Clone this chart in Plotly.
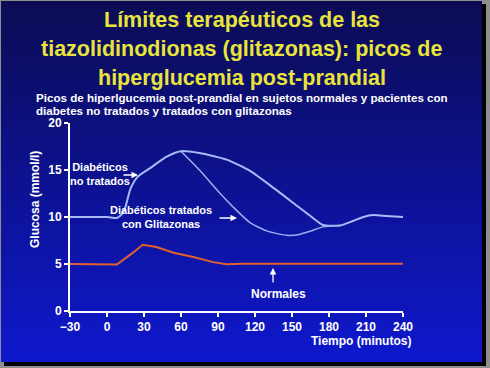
import plotly.graph_objects as go

# ---- data ----
untreated_t = [-30, 0, 8, 12, 15, 19, 25, 35, 48, 60, 75, 97, 116, 135, 154, 167, 175, 189, 200, 208, 216, 227, 240]
untreated_v = [10, 10, 9.9, 10.3, 11.1, 13.0, 14.3, 15.2, 16.4, 17.0, 16.8, 16.1, 14.9, 13.1, 11.2, 9.9, 9.15, 9.1, 9.6, 10.0, 10.2, 10.1, 10.0]

treated_t = [60, 75, 89, 102, 116, 130, 146, 156, 165, 175, 189]
treated_v = [17.0, 15.0, 12.9, 11.1, 9.4, 8.5, 8.05, 8.15, 8.5, 8.95, 9.1]

normal_t = [-30, 0, 8, 20, 29, 40, 54, 70, 86, 97, 107, 109, 240]
normal_v = [5, 5, 4.95, 6.1, 7.05, 6.8, 6.2, 5.75, 5.2, 4.97, 4.95, 5.02, 5.02]

x_ticks = [-30, 0, 30, 60, 90, 120, 150, 180, 210, 240]
y_ticks = [0, 5, 10, 15, 20]

title_lines = ["Límites terapéuticos de las",
               "tiazolidinodionas (glitazonas): picos de",
               "hiperglucemia post-prandial"]
subtitle_lines = ["Picos de hiperlgucemia post-prandial en sujetos normales y pacientes con",
                  "diabetes no tratados y tratados con glitazonas"]

W, H = 490, 368
L, R, T, B = 70, 87, 123, 57
PW, PH = W - L - R, H - T - B


def px(xp):
    return (xp - L) / PW


def py(yp):
    return (H - B - yp) / PH


fig = go.Figure()

fig.add_trace(go.Scatter(x=normal_t, y=normal_v, mode="lines",
                         line=dict(color="#e2602e", width=2), hoverinfo="skip"))
fig.add_trace(go.Scatter(x=untreated_t, y=untreated_v, mode="lines",
                         line=dict(color="#a6bcf6", width=2, shape="spline", smoothing=0.6),
                         hoverinfo="skip"))
fig.add_trace(go.Scatter(x=treated_t, y=treated_v, mode="lines",
                         line=dict(color="#98b0f0", width=1.5, shape="spline", smoothing=0.6),
                         hoverinfo="skip"))

shapes = []
# shadow
shapes.append(dict(type="rect", xref="paper", yref="paper", x0=px(4), x1=px(486), y0=py(366), y1=py(4),
                   fillcolor="black", line=dict(width=0), layer="below"))
# gradient slide
top = (12, 12, 84)
bot = (14, 24, 205)
y0s, y1s = 1, 362
n = 90
step = (y1s - y0s) / n
for i in range(n):
    f = (i + 0.5) / n
    c = tuple(int(round(top[k] + (bot[k] - top[k]) * f)) for k in range(3))
    a = y0s + i * step
    b = a + step + 0.6
    shapes.append(dict(type="rect", xref="paper", yref="paper", x0=px(1), x1=px(482),
                       y0=py(min(b, y1s)), y1=py(a),
                       fillcolor="rgb(%d,%d,%d)" % c, line=dict(width=0), layer="below"))

ann = []
title_y = [19.5, 48.5, 77.5]
for t, yy in zip(title_lines, title_y):
    ann.append(dict(text=t, xref="paper", yref="paper", x=px(241.5), y=py(yy), xanchor="center",
                    yanchor="middle", showarrow=False, borderpad=0,
                    font=dict(family="Arial", size=21.5, color="#e8e43c", weight="bold")))
sub_y = [97.5, 110]
for t, yy in zip(subtitle_lines, sub_y):
    ann.append(dict(text=t, xref="paper", yref="paper", x=px(35), y=py(yy), xanchor="left",
                    yanchor="middle", showarrow=False, borderpad=0,
                    font=dict(family="Arial", size=11.6, color="white", weight="bold")))

lab_font = dict(family="Arial", size=11, color="white", weight="bold")
ann.append(dict(text="Diabéticos<br>no tratados", xref="paper", yref="paper", x=px(100), y=py(173.5),
                xanchor="center", yanchor="middle", showarrow=False, font=lab_font))
ann.append(dict(text="Diabéticos tratados<br>con Glitazonas", xref="paper", yref="paper", x=px(161),
                y=py(217), xanchor="center", yanchor="middle", showarrow=False, font=lab_font))
ann.append(dict(text="Normales", xref="paper", yref="paper", x=px(278), y=py(293.5),
                xanchor="center", yanchor="middle", showarrow=False,
                font=dict(family="Arial", size=12, color="white", weight="bold")))

# arrows
for (tx, ty, ax, ay) in [(138, 175, -16, 0), (237, 218, -19, 0), (273, 268, 0, 16)]:
    ann.append(dict(text="", xref="paper", yref="paper", x=px(tx), y=py(ty), ax=ax, ay=ay,
                    showarrow=True, arrowhead=2, arrowsize=1, arrowwidth=1.3, arrowcolor="white"))

ann.append(dict(text="Tiempo (minutos)", xref="paper", yref="paper", x=px(413), y=py(341),
                xanchor="right", yanchor="middle", showarrow=False,
                font=dict(family="Arial", size=12, color="white", weight="bold")))
ann.append(dict(text="Glucosa (mmol/l)", xref="paper", yref="paper", x=px(35), y=py(200),
                xanchor="center", yanchor="middle", textangle=-90, showarrow=False,
                font=dict(family="Arial", size=12, color="white", weight="bold")))

axis_common = dict(showgrid=False, zeroline=False, showline=True, linecolor="white", linewidth=2,
                   ticks="outside", ticklen=4, tickwidth=2, tickcolor="white",
                   tickfont=dict(family="Arial", size=12, color="white", weight="bold"))

fig.update_layout(
    width=W, height=H,
    margin=dict(l=L, r=R, t=T, b=B, pad=0),
    paper_bgcolor="#8e8e8e",
    plot_bgcolor="rgba(0,0,0,0)",
    showlegend=False,
    shapes=shapes,
    annotations=ann,
    xaxis=dict(range=[-30, 240], tickvals=x_ticks, **axis_common),
    yaxis=dict(range=[0, 20], tickvals=y_ticks, **axis_common),
)

fig.write_html("out.html", config={"displayModeBar": False},
               post_script="document.body.style.margin='0';document.body.style.padding='0';"
                           "document.body.style.background='#8e8e8e';")
